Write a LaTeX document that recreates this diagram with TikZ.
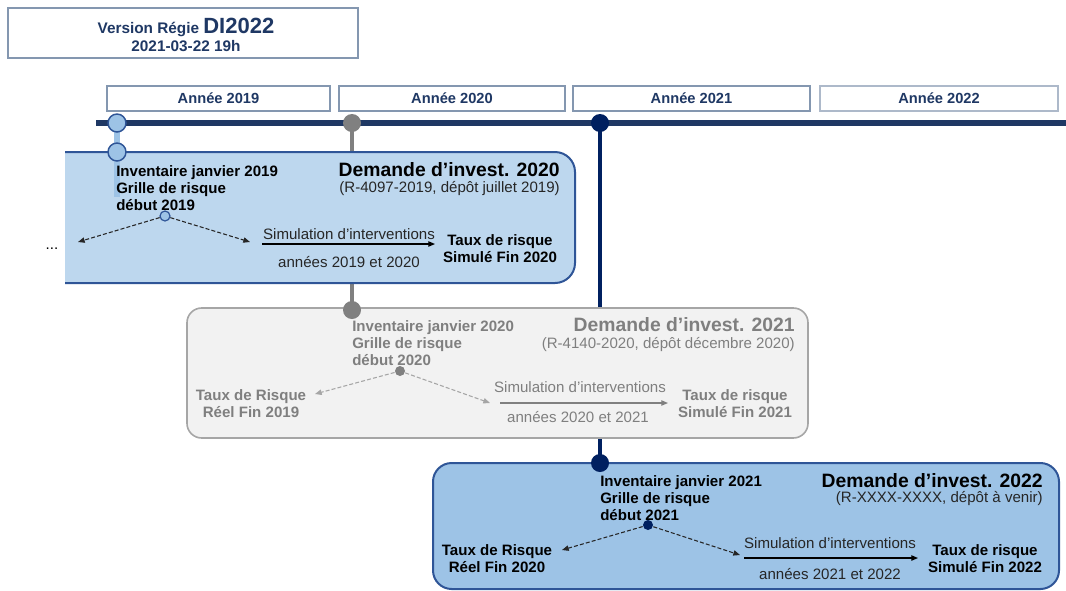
\documentclass[tikz,border=0pt]{standalone}
\usepackage{fontspec}
\setmainfont{Liberation Sans}
\usetikzlibrary{arrows.meta}
\definecolor{navy}{HTML}{1F3864}
\definecolor{darknavy}{HTML}{002060}
\definecolor{boxblue}{HTML}{2F5597}
\definecolor{lightfill}{HTML}{BDD7EE}
\definecolor{midfill}{HTML}{9DC3E6}
\definecolor{greyfill}{HTML}{F2F2F2}
\definecolor{greyline}{HTML}{A6A6A6}
\definecolor{greymark}{HTML}{808080}
\definecolor{greytext}{HTML}{7F7F7F}
\definecolor{yearline}{HTML}{8497B0}
\definecolor{yearlinelight}{HTML}{ADB9CA}
\definecolor{darktext}{HTML}{262626}
\newcommand{\myfsn}{\fontsize{11.3}{12.8}\selectfont}
\newcommand{\myfsb}{\fontsize{11.3}{12.8}\selectfont\bfseries}
\newcommand{\myfst}{\fontsize{14.5}{16}\selectfont\bfseries}
\begin{document}
\begin{tikzpicture}[x=0.75pt,y=-0.75pt,
  yearbox/.style={draw=yearline, line width=0.9pt, minimum height=18.75pt, inner sep=0pt,
    font=\fontsize{11}{12}\selectfont\bfseries, text=navy},
  bigmark/.style={circle, minimum size=13.5pt, inner sep=0pt, line width=1.1pt},
  smallmark/.style={circle, minimum size=7.5pt, inner sep=0pt, line width=0.9pt},
  txt/.style={inner sep=0pt, font=\myfsn},
  btxt/.style={inner sep=0pt, font=\myfsb},
  ttxt/.style={inner sep=0pt, font=\myfst},
  dasharrow/.style={draw=#1, line width=0.8pt, dash pattern=on 3pt off 1.6pt,
    -{Triangle[length=5pt,width=4pt]}},
  simarrow/.style={draw=#1, line width=0.9pt, -{Triangle[length=5pt,width=4pt]}}
]
\useasboundingbox (0,0) rectangle (1066,590);
\fill[white] (0,0) rectangle (1066,590);

% ---------- header ----------
\node[draw=yearline, line width=0.9pt, minimum width=262.5pt, minimum height=37.5pt] (titlebox) at (183,33) {};
\node[anchor=base, inner sep=0pt, text=navy] (title1) at (186,33)
  {\fontsize{11.5}{13}\selectfont\bfseries Version Régie \fontsize{16.5}{18}\selectfont DI2022};
\node[anchor=base, inner sep=0pt, text=navy, font=\fontsize{11.5}{13}\selectfont\bfseries] (title2) at (186,51) {2021-03-22 19h};

\node[yearbox, minimum width=167.25pt] (y19) at (218.5,98.5) {Année 2019};
\node[yearbox, minimum width=169.5pt] (y20) at (452,98.5) {Année 2020};
\node[yearbox, minimum width=177.75pt] (y21) at (691.5,98.5) {Année 2021};
\node[yearbox, draw=yearlinelight, minimum width=178.5pt] (y22) at (939,98.5) {Année 2022};

% ---------- coordinates ----------
\coordinate (tlstart) at (96,123);
\coordinate (tlend) at (1066,123);
\coordinate (c19a) at (117,123);
\coordinate (c19b) at (117,152);
\coordinate (c19c) at (117,197);
\coordinate (c20a) at (352,123);
\coordinate (c20b) at (352,310);
\coordinate (c21a) at (600,123);
\coordinate (c21b) at (600,463);

% vertical connectors
\draw[greymark, line width=2.4pt] (c20a) -- (c20b);
\draw[darknavy, line width=2.4pt] (c21a) -- (c21b);
% timeline
\draw[navy, line width=4.5pt] (tlstart) -- (tlend);

% ---------- box 1 ----------
\path[fill=lightfill, draw=boxblue, line width=1.5pt, rounded corners=15pt]
  (65,152) -- (575,152) -- (575,283) -- (65,283);
\draw[midfill, line width=4pt] (c19a) -- (c19c);

\node[btxt, anchor=north west, align=left] (inv1) at (116,165)
  {Inventaire janvier 2019\\Grille de risque\\début 2019};
\node[ttxt, anchor=north east] (dem1) at (560,162) {Demande d’invest. 2020};
\node[txt, anchor=north east, text=darktext] (ref1) at (560,181) {(R-4097-2019, dépôt juillet 2019)};
\node[smallmark, fill=midfill, draw=boxblue] (s1) at (165,216) {};
\coordinate (l1) at (78,242);
\coordinate (r1) at (250,242);
\draw[dasharrow=darktext] (s1) -- (l1);
\draw[dasharrow=darktext] (s1) -- (r1);
\node[txt, anchor=base] (dots1) at (52,249) {...};
\node[txt, anchor=base, text=darktext] (sim1) at (349,239) {Simulation d’interventions};
\coordinate (a1s) at (262,244);
\node[btxt, anchor=north, align=center] (ts1) at (500,234.5) {Taux de risque\\Simulé Fin 2020};
\coordinate (a1e) at (435,244);
\draw[simarrow=black] (a1s) -- (a1e);
\node[txt, anchor=base, text=darktext] (ann1) at (349,267) {années 2019 et 2020};

% ---------- box 2 ----------
\draw[fill=greyfill, draw=greyline, line width=1.2pt, rounded corners=11pt] (187,308) rectangle (808,438);
\node[btxt, anchor=north west, align=left, text=greytext] (inv2) at (352,320)
  {Inventaire janvier 2020\\Grille de risque\\début 2020};
\node[ttxt, anchor=north east, text=greytext] (dem2) at (795,317.5) {Demande d’invest. 2021};
\node[txt, anchor=north east, text=greytext] (ref2) at (795,337) {(R-4140-2020, dépôt décembre 2020)};
\node[smallmark, fill=greymark] (s2) at (400,371) {};
\node[btxt, anchor=north, align=center, text=greytext] (tr2) at (251,389) {Taux de Risque\\Réel Fin 2019};
\coordinate (l2) at (315,394);
\coordinate (r2) at (490,403);
\draw[dasharrow=greyline] (s2) -- (l2);
\draw[dasharrow=greyline] (s2) -- (r2);
\node[txt, anchor=base, text=greytext] (sim2) at (580,392) {Simulation d’interventions};
\coordinate (a2s) at (500,403);
\coordinate (a2e) at (668,403);
\draw[simarrow=greymark] (a2s) -- (a2e);
\node[txt, anchor=base, text=greytext] (ann2) at (578,422) {années 2020 et 2021};
\node[btxt, anchor=north, align=center, text=greytext] (ts2) at (735,389) {Taux de risque\\Simulé Fin 2021};

% ---------- box 3 ----------
\draw[fill=midfill, draw=boxblue, line width=1.5pt, rounded corners=14pt] (433,463) rectangle (1059,589);
\node[btxt, anchor=north west, align=left] (inv3) at (600,475)
  {Inventaire janvier 2021\\Grille de risque\\début 2021};
\node[ttxt, anchor=north east] (dem3) at (1043,473) {Demande d’invest. 2022};
\node[txt, anchor=north east, text=darktext] (ref3) at (1043,491) {(R-XXXX-XXXX, dépôt à venir)};
\node[smallmark, fill=darknavy] (s3) at (648,525) {};
\node[btxt, anchor=north, align=center] (tr3) at (497,544) {Taux de Risque\\Réel Fin 2020};
\coordinate (l3) at (562,550);
\coordinate (r3) at (740,555);
\draw[dasharrow=darktext] (s3) -- (l3);
\draw[dasharrow=darktext] (s3) -- (r3);
\node[txt, anchor=base, text=darktext] (sim3) at (830,548) {Simulation d’interventions};
\coordinate (a3s) at (744,558);
\coordinate (a3e) at (918,558);
\draw[simarrow=black] (a3s) -- (a3e);
\node[txt, anchor=base, text=darktext] (ann3) at (830,579) {années 2021 et 2022};
\node[btxt, anchor=north, align=center] (ts3) at (985,544) {Taux de risque\\Simulé Fin 2022};

% ---------- markers ----------
\node[bigmark, fill=midfill, draw=boxblue] (m19a) at (c19a) {};
\node[bigmark, fill=midfill, draw=boxblue] (m19b) at (c19b) {};
\node[bigmark, fill=greymark] (m20a) at (c20a) {};
\node[bigmark, fill=greymark] (m20b) at (c20b) {};
\node[bigmark, fill=darknavy] (m21a) at (c21a) {};
\node[bigmark, fill=darknavy] (m21b) at (c21b) {};
\end{tikzpicture}
\end{document}
